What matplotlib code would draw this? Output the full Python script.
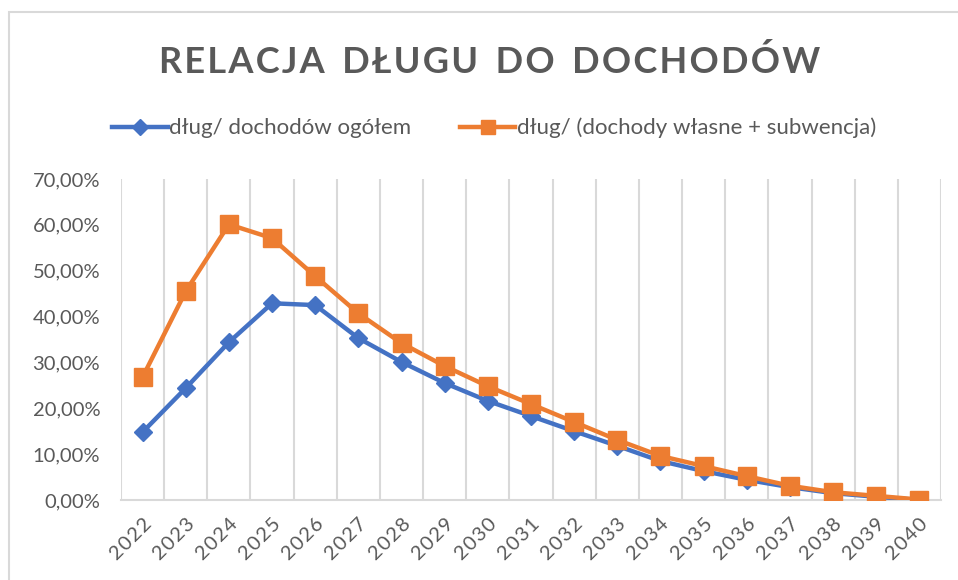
import numpy as np
import matplotlib
matplotlib.use('Agg')
from matplotlib import pyplot as plt
from matplotlib.ticker import FuncFormatter
from matplotlib.patches import Rectangle

years = ['2022', '2023', '2024', '2025', '2026', '2027', '2028', '2029', '2030', '2031',
         '2032', '2033', '2034', '2035', '2036', '2037', '2038', '2039', '2040']
# relacja długu do dochodów ogółem [%]
dlug_ogolem = [14.8, 24.4, 34.4, 42.9, 42.5, 35.3, 30.1, 25.5, 21.6, 18.3,
               15.0, 11.8, 8.5, 6.3, 4.4, 2.8, 1.5, 0.7, 0.0]
# relacja długu do (dochody własne + subwencja) [%]
dlug_wlasne = [26.8, 45.5, 60.1, 57.1, 48.8, 40.7, 34.2, 29.2, 24.8, 20.9,
               17.0, 13.1, 9.6, 7.4, 5.2, 3.1, 1.7, 0.9, 0.1]

plt.rcParams['font.family'] = ['Lato', 'DejaVu Sans']
grey = '#595959'
blue = '#4472C4'
orange = '#ED7D31'

W, H = 958, 580
fig = plt.figure(figsize=(W / 100, H / 100), dpi=100)
ax = fig.add_axes([121 / W, 1 - 500 / H, (941 - 121) / W, (500 - 179) / H])

# chart border (only top/left visible in the screenshot)
fig.patches.append(Rectangle((9 / W, -0.1), 1.2, 1 - 12 / H + 0.1, transform=fig.transFigure,
                             fill=False, edgecolor='#d9d9d9', linewidth=1.5))

x = np.arange(len(years))
ax.plot(x, np.array(dlug_ogolem) / 100, color=blue, lw=3.2, marker='D', ms=9,
        label='dług/ dochodów ogółem', zorder=3)
ax.plot(x, np.array(dlug_wlasne) / 100, color=orange, lw=3.2, marker='s', ms=12.5,
        label='dług/ (dochody własne + subwencja)', zorder=4)

ax.set_xlim(-0.5, len(years) - 0.5)
ax.set_ylim(0, 0.7)
ax.set_yticks(np.arange(0, 0.71, 0.1))
ax.yaxis.set_major_formatter(FuncFormatter(lambda v, p: f'{v * 100:.2f}%'.replace('.', ',')))
ax.set_xticks(x)
ax.set_xticklabels(['\u200a'.join(y) for y in years], rotation=45, ha='right', va='top',
                   rotation_mode='anchor')

# vertical category gridlines
for b in np.arange(-0.5, len(years), 1):
    ax.axvline(b, color='#d9d9d9', lw=1.5, zorder=1)

for s in ['top', 'right', 'left']:
    ax.spines[s].set_visible(False)
ax.spines['bottom'].set_color('#d9d9d9')
ax.spines['bottom'].set_linewidth(1.5)
ax.tick_params(axis='both', length=0, labelcolor=grey)
ax.tick_params(axis='y', pad=15, labelsize=14.5)
ax.tick_params(axis='x', pad=11, labelsize=14.5)

title = '  '.join('\u200a'.join(w) for w in ['RELACJA', 'DŁUGU', 'DO', 'DOCHODÓW'])
fig.text(490 / W, 1 - 62 / H, title, ha='center', va='center', fontsize=26,
         fontweight='bold', color=grey)

fig.legend(loc='center', bbox_to_anchor=(494 / W, 1 - 128 / H), ncol=2, frameon=False,
           fontsize=16, labelcolor=grey, handlelength=2.5, handletextpad=0.05,
           columnspacing=2.2, markerscale=0.85)

fig.savefig('out.png', dpi=100)
